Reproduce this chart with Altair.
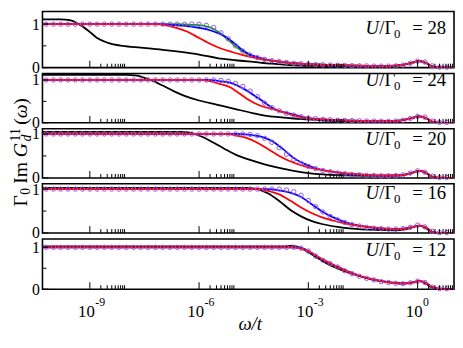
import altair as alt
import pandas as pd

FONT = "Liberation Serif, Times New Roman, Tinos, DejaVu Serif, serif"

# ---------------- data (x given as log10(omega/t)) ----------------
U_VALUES = [28, 24, 20, 16, 12]

CIRCLE_LOGW = [-10.2, -10.0, -9.8, -9.6, -9.4, -9.2, -9.0, -8.8, -8.6, -8.4,
               -8.2, -8.0, -7.8, -7.6, -7.4, -7.2, -7.0, -6.8, -6.6, -6.4,
               -6.2, -6.0, -5.8, -5.6, -5.4, -5.2, -5.0, -4.8, -4.6, -4.4,
               -4.2, -4.0, -3.8, -3.6, -3.4, -3.2, -3.0, -2.8, -2.6, -2.4,
               -2.2, -2.0, -1.8, -1.6, -1.4, -1.2, -1.0, -0.8, -0.6, -0.4,
               -0.2, 0.0, 0.2, 0.4, 0.6, 0.8]

CIRC_28 = [1.0] * 21 + [0.995, 0.97, 0.92, 0.80, 0.66, 0.50, 0.38, 0.29, 0.23, 0.19,
                        0.16, 0.14, 0.12, 0.10, 0.09, 0.08, 0.07, 0.065, 0.06, 0.055,
                        0.05, 0.045, 0.04, 0.04, 0.035, 0.035, 0.035, 0.04, 0.06, 0.10,
                        0.15, 0.13, 0.04, 0.01, 0.01]
CIRC_24 = [1.0] * 24 + [0.99, 0.97, 0.92, 0.85, 0.74, 0.61, 0.46, 0.35, 0.28, 0.22,
                        0.18, 0.14, 0.11, 0.095, 0.08, 0.07, 0.06, 0.055, 0.05, 0.045,
                        0.04, 0.04, 0.035, 0.035, 0.04, 0.06, 0.10, 0.15, 0.13, 0.04,
                        0.01, 0.01]
CIRC_20 = [1.0] * 28 + [0.99, 0.96, 0.90, 0.81, 0.69, 0.54, 0.42, 0.33, 0.26, 0.21,
                        0.17, 0.14, 0.11, 0.095, 0.08, 0.07, 0.06, 0.055, 0.05, 0.05,
                        0.055, 0.07, 0.11, 0.16, 0.13, 0.04, 0.01, 0.01]
CIRC_16 = [1.0] * 33 + [0.98, 0.94, 0.86, 0.74, 0.60, 0.48, 0.38, 0.30, 0.24, 0.19,
                        0.16, 0.13, 0.11, 0.10, 0.09, 0.09, 0.10, 0.13, 0.18, 0.14,
                        0.04, 0.01, 0.01]
CIRC_12 = [1.0] * 35 + [0.98, 0.91, 0.79, 0.69, 0.61, 0.53, 0.44, 0.37, 0.31, 0.26,
                        0.22, 0.18, 0.16, 0.14, 0.13, 0.15, 0.19, 0.16, 0.05, 0.015,
                        0.01]

# U = 28
BLACK_28_X = [-10.3, -9.8, -9.55, -9.3, -9.0, -8.8, -8.5, -8.1, -7.6, -7.0, -6.5, -6.0, -5.5,
              -5.0, -4.5, -4.0, -3.5, -3.0, -2.0, -1.0, -0.5, -0.2, 0.05, 0.25, 0.4, 0.6, 1.0]
BLACK_28_Y = [1.11, 1.11, 1.09, 1.0, 0.82, 0.68, 0.57, 0.50, 0.46, 0.41, 0.36, 0.30, 0.22,
              0.17, 0.13, 0.09, 0.06, 0.04, 0.03, 0.03, 0.05, 0.10, 0.15, 0.10, 0.02, 0.0, 0.0]
GREEN_28_X = [-10.3, -6.6, -6.2, -5.8, -5.6, -5.4, -5.2, -5.0, -4.8, -4.6, -4.4, -4.0,
              -3.5, -3.0, -2.0, -1.0, -0.5, -0.2, 0.05, 0.25, 0.4, 0.6, 1.0]
GREEN_28_Y = [1.0, 1.0, 0.985, 0.95, 0.89, 0.78, 0.64, 0.49, 0.37, 0.28, 0.22, 0.16,
              0.11, 0.08, 0.05, 0.035, 0.05, 0.10, 0.15, 0.10, 0.03, 0.005, 0.0]
BLUE_28_X = [-10.3, -7.1, -6.7, -6.2, -5.7, -5.3, -5.0, -4.8, -4.6, -4.4, -4.2, -4.0,
             -3.5, -3.0, -2.0, -1.0, -0.5, -0.2, 0.05, 0.25, 0.4, 0.6, 1.0]
BLUE_28_Y = [1.0, 1.0, 0.98, 0.94, 0.86, 0.72, 0.54, 0.40, 0.30, 0.24, 0.19, 0.16,
             0.11, 0.08, 0.05, 0.035, 0.05, 0.10, 0.15, 0.10, 0.03, 0.005, 0.0]
RED_28_X = [-10.3, -7.2, -6.9, -6.6, -6.3, -6.0, -5.7, -5.4, -5.1, -4.8, -4.5, -4.2,
            -3.8, -3.4, -3.0, -2.0, -1.0, -0.5, -0.2, 0.05, 0.25, 0.4, 0.6, 1.0]
RED_28_Y = [1.0, 1.0, 0.97, 0.91, 0.82, 0.68, 0.55, 0.44, 0.36, 0.29, 0.23, 0.18,
            0.14, 0.10, 0.08, 0.05, 0.035, 0.05, 0.10, 0.15, 0.10, 0.03, 0.005, 0.0]

# U = 24
BLACK_24_X = [-10.3, -8.0, -7.7, -7.5, -7.3, -7.0, -6.7, -6.4, -6.0, -5.5, -5.0, -4.6, -4.2,
              -3.8, -3.4, -3.0, -2.5, -2.0, -1.0, -0.5, -0.2, 0.05, 0.25, 0.4, 0.6, 1.0]
BLACK_24_Y = [1.12, 1.12, 1.10, 1.05, 0.99, 0.87, 0.74, 0.63, 0.52, 0.42, 0.32, 0.24, 0.17,
              0.13, 0.10, 0.08, 0.05, 0.04, 0.035, 0.05, 0.10, 0.15, 0.10, 0.02, 0.0, 0.0]
BLUE_24_X = [-10.3, -5.8, -5.4, -5.15, -4.95, -4.75, -4.35, -3.9, -3.45, -3.0, -2.6, -2.0,
             -1.0, -0.5, -0.2, 0.05, 0.25, 0.4, 0.6, 1.0]
BLUE_24_Y = [1.0, 1.0, 0.97, 0.94, 0.87, 0.78, 0.56, 0.31, 0.20, 0.11, 0.08, 0.055,
             0.035, 0.05, 0.10, 0.15, 0.10, 0.03, 0.005, 0.0]
RED_24_X = [-10.3, -6.0, -5.7, -5.4, -5.15, -4.95, -4.7, -4.35, -3.9, -3.45, -3.05, -2.6,
            -2.0, -1.0, -0.5, -0.2, 0.05, 0.25, 0.4, 0.6, 1.0]
RED_24_Y = [1.0, 1.0, 0.97, 0.90, 0.83, 0.72, 0.57, 0.41, 0.30, 0.18, 0.11, 0.08,
            0.055, 0.035, 0.05, 0.10, 0.15, 0.10, 0.03, 0.005, 0.0]

# U = 20
BLACK_20_X = [-10.3, -6.5, -6.2, -5.9, -5.6, -5.3, -5.0, -4.6, -4.2, -3.8, -3.4, -3.0,
              -2.6, -2.0, -1.0, -0.5, -0.2, 0.05, 0.25, 0.4, 0.6, 1.0]
BLACK_20_Y = [1.05, 1.05, 1.02, 0.93, 0.80, 0.66, 0.53, 0.41, 0.31, 0.23, 0.16, 0.11,
              0.08, 0.06, 0.045, 0.055, 0.10, 0.16, 0.10, 0.02, 0.0, 0.0]
BLUE_20_X = [-10.3, -5.0, -4.6, -4.3, -4.0, -3.7, -3.4, -3.1, -2.8, -2.4, -2.0, -1.5,
             -1.0, -0.6, -0.3, 0.05, 0.25, 0.4, 0.6, 1.0]
BLUE_20_Y = [1.0, 1.0, 0.98, 0.94, 0.84, 0.66, 0.45, 0.32, 0.22, 0.15, 0.10, 0.075,
             0.055, 0.055, 0.08, 0.16, 0.11, 0.03, 0.005, 0.0]
RED_20_X = [-10.3, -5.3, -5.0, -4.7, -4.4, -4.1, -3.8, -3.5, -3.2, -2.9, -2.5, -2.0,
            -1.5, -1.0, -0.6, -0.3, 0.05, 0.25, 0.4, 0.6, 1.0]
RED_20_Y = [1.0, 1.0, 0.97, 0.91, 0.80, 0.65, 0.50, 0.38, 0.29, 0.22, 0.16, 0.11,
            0.075, 0.055, 0.055, 0.08, 0.16, 0.11, 0.03, 0.005, 0.0]

# U = 16
BLACK_16_X = [-10.3, -4.7, -4.4, -4.1, -3.8, -3.5, -3.2, -2.9, -2.6, -2.2, -1.8, -1.2,
              -0.6, -0.3, 0.05, 0.25, 0.4, 0.6, 1.0]
BLACK_16_Y = [1.03, 1.03, 1.0, 0.90, 0.73, 0.53, 0.38, 0.27, 0.20, 0.14, 0.10, 0.07,
              0.06, 0.09, 0.17, 0.10, 0.02, 0.0, 0.0]
BLUE_16_X = [-10.3, -4.1, -3.8, -3.5, -3.2, -2.9, -2.6, -2.3, -2.0, -1.6, -1.2, -0.8,
             -0.5, -0.2, 0.05, 0.25, 0.4, 0.6, 1.0]
BLUE_16_Y = [1.0, 1.0, 0.97, 0.92, 0.82, 0.65, 0.48, 0.35, 0.25, 0.17, 0.12, 0.095,
             0.095, 0.13, 0.17, 0.12, 0.03, 0.005, 0.0]
RED_16_X = [-10.3, -4.4, -4.1, -3.8, -3.5, -3.2, -2.9, -2.6, -2.3, -2.0, -1.5, -1.0,
            -0.6, -0.3, 0.05, 0.25, 0.4, 0.6, 1.0]
RED_16_Y = [1.0, 1.0, 0.96, 0.88, 0.74, 0.58, 0.45, 0.35, 0.28, 0.22, 0.15, 0.11,
            0.09, 0.10, 0.17, 0.12, 0.03, 0.005, 0.0]

# U = 12
BLACK_12_X = [-10.3, -3.7, -3.45, -3.25, -3.0, -2.7, -2.4, -2.1, -1.8, -1.5, -1.2, -0.9,
              -0.6, -0.35, -0.1, 0.05, 0.25, 0.4, 0.6, 1.0]
BLACK_12_Y = [1.02, 1.02, 1.04, 1.0, 0.88, 0.72, 0.57, 0.46, 0.37, 0.29, 0.23, 0.18,
              0.15, 0.14, 0.16, 0.19, 0.12, 0.03, 0.0, 0.0]
BLUE_12_X = [-10.3, -3.4, -3.1, -2.8, -2.5, -2.2, -1.9, -1.6, -1.3, -1.0, -0.7, -0.4,
             -0.15, 0.05, 0.25, 0.4, 0.6, 1.0]
BLUE_12_Y = [1.0, 1.0, 0.96, 0.80, 0.66, 0.54, 0.42, 0.32, 0.24, 0.19, 0.15, 0.13,
             0.16, 0.20, 0.14, 0.05, 0.01, 0.0]
RED_12_X = [-10.3, -3.5, -3.2, -2.9, -2.6, -2.3, -2.0, -1.7, -1.4, -1.1, -0.8, -0.5,
            -0.3, -0.1, 0.05, 0.25, 0.4, 0.6, 1.0]
RED_12_Y = [1.0, 1.0, 0.97, 0.86, 0.71, 0.57, 0.45, 0.35, 0.27, 0.21, 0.16, 0.14,
            0.14, 0.17, 0.20, 0.14, 0.05, 0.01, 0.0]

# axis ticks / labels
MAJOR_TICKS = [1e-9, 1e-6, 1e-3, 1.0]
EXP_LABELS = ["-9", "-6", "-3", "0"]
MINOR_TICKS = [k * m for m in MAJOR_TICKS for k in range(2, 10)]
Y_TICKS_MAJOR = [0, 1]
Y_TICKS_MINOR = [0.5]

PANELS = [
    {"black": (BLACK_28_X, BLACK_28_Y), "green": (GREEN_28_X, GREEN_28_Y),
     "blue": (BLUE_28_X, BLUE_28_Y), "red": (RED_28_X, RED_28_Y), "circ": CIRC_28},
    {"black": (BLACK_24_X, BLACK_24_Y), "blue": (BLUE_24_X, BLUE_24_Y),
     "red": (RED_24_X, RED_24_Y), "circ": CIRC_24},
    {"black": (BLACK_20_X, BLACK_20_Y), "blue": (BLUE_20_X, BLUE_20_Y),
     "red": (RED_20_X, RED_20_Y), "circ": CIRC_20},
    {"black": (BLACK_16_X, BLACK_16_Y), "blue": (BLUE_16_X, BLUE_16_Y),
     "red": (RED_16_X, RED_16_Y), "circ": CIRC_16},
    {"black": (BLACK_12_X, BLACK_12_Y), "blue": (BLUE_12_X, BLUE_12_Y),
     "red": (RED_12_X, RED_12_Y), "circ": CIRC_12},
]

# ---------------- layout / style ----------------
W = 418
PANEL_H = [57, 50, 50, 50, 51]
Y_MAX = [1.29, 1.15, 1.12, 1.12, 1.20]
LABEL_BASE = [22.5, 12.8, 17, 15, 17.5]
COLORS = {"black": "#000000", "green": "#00a000", "blue": "#0000ff", "red": "#ff0000"}
VIOLET = "#9a55e8"

XSCALE = alt.Scale(type="log", domain=[5e-11, 10], nice=False)


def line_df(xs, ys):
    return pd.DataFrame({"w": [10.0 ** x for x in xs], "v": ys})


def text_layer(txt, x, y, size, style="normal", align="left", angle=0):
    kw = dict(font=FONT, fontSize=size, fontStyle=style, align=align,
              baseline="alphabetic", color="black")
    if angle:
        kw["angle"] = angle
    return alt.Chart(pd.DataFrame({"t": [txt]})).mark_text(**kw).encode(
        x=alt.value(x), y=alt.value(y), text="t:N")


def make_panel(i):
    h = PANEL_H[i]
    p = PANELS[i]
    X = alt.X("w:Q", scale=XSCALE, axis=None)
    Y = alt.Y("v:Q", title=None,
              scale=alt.Scale(domain=[0, Y_MAX[i]], nice=False),
              axis=alt.Axis(values=[0, 1], format="d", labelFont=FONT,
                            labelFontSize=16, labelColor="black", labelPadding=3,
                            domain=False, ticks=False, grid=False, labelFlush=False))
    layers = []
    for key in ["black", "green", "blue", "red"]:
        if key in p:
            xs, ys = p[key]
            layers.append(alt.Chart(line_df(xs, ys)).mark_line(
                color=COLORS[key], strokeWidth=1.8, interpolate="monotone", clip=True
            ).encode(x=X, y=Y))
    layers.append(alt.Chart(line_df(CIRCLE_LOGW, p["circ"])).mark_point(
        shape="circle", filled=False, size=20, strokeWidth=1, color=VIOLET, opacity=1
    ).encode(x=X, y=Y))
    # inward ticks
    layers.append(alt.Chart(pd.DataFrame({"w": MAJOR_TICKS})).mark_rule(
        color="black", strokeWidth=1).encode(x=X, y=alt.value(h), y2=alt.value(h - 7)))
    layers.append(alt.Chart(pd.DataFrame({"w": MINOR_TICKS})).mark_rule(
        color="black", strokeWidth=1).encode(x=X, y=alt.value(h), y2=alt.value(h - 4)))
    layers.append(alt.Chart(pd.DataFrame({"v": Y_TICKS_MAJOR})).mark_rule(
        color="black", strokeWidth=1).encode(y=Y, x=alt.value(0), x2=alt.value(6)))
    layers.append(alt.Chart(pd.DataFrame({"v": Y_TICKS_MINOR})).mark_rule(
        color="black", strokeWidth=1).encode(y=Y, x=alt.value(0), x2=alt.value(4)))
    # U/Gamma0 label
    yb = LABEL_BASE[i]
    layers.append(text_layer("U", 328, yb, 19, "italic"))
    layers.append(text_layer("/\u0393", 342, yb, 19))
    layers.append(text_layer("0", 357, yb + 4, 13))
    layers.append(text_layer(f"= {U_VALUES[i]}", 410, yb, 19, align="right"))

    if i == 2:
        # y-axis title  Γ0 Im G^11_d(ω), rotated
        layers += [
            text_layer("\u0393", -16, 79, 20, angle=270),
            text_layer("0", -13, 67, 14, angle=270),
            text_layer("Im", -16, 56, 20, angle=270),
            text_layer("G", -16, 29, 20, "italic", angle=270),
            text_layer("11", -23, 13, 14, angle=270),
            text_layer("d", -12, 13, 14, "italic", angle=270),
            text_layer("(", -16, -4, 20, angle=270),
            text_layer("\u03c9", -16, -10.7, 20, "italic", angle=270),
            text_layer(")", -16, -24.3, 20, angle=270),
        ]
    if i == 4:
        lab = pd.DataFrame({"w": MAJOR_TICKS, "e": EXP_LABELS})
        layers.append(alt.Chart(lab).mark_text(
            font=FONT, fontSize=17, align="right", baseline="alphabetic", dx=5, color="black"
        ).encode(x=X, y=alt.value(h + 28), text=alt.value("10")))
        layers.append(alt.Chart(lab).mark_text(
            font=FONT, fontSize=12, align="left", baseline="alphabetic", dx=5.5, color="black"
        ).encode(x=X, y=alt.value(h + 17), text="e:N"))
        layers.append(text_layer("\u03c9/t", 211, h + 41, 19, "italic", align="center"))

    return alt.layer(*layers).properties(width=W, height=h)


chart = alt.vconcat(*[make_panel(i) for i in range(5)], spacing=6, bounds="flush").properties(
    padding=0
).configure_view(stroke="black", strokeWidth=1.6)

chart.save("out.html", embed_options={"renderer": "svg", "actions": False})
